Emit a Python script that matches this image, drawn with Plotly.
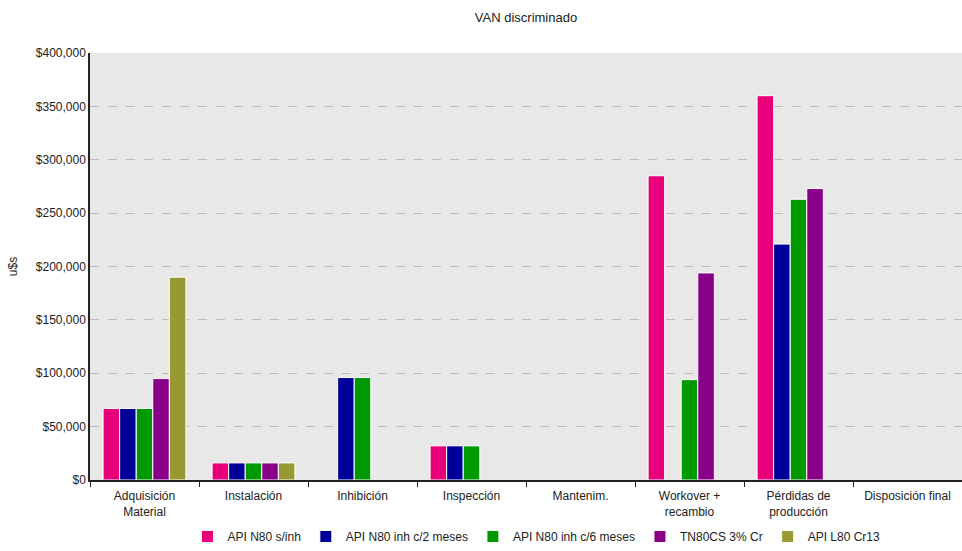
import plotly.graph_objects as go

categories = ["Adquisición<br>Material", "Instalación", "Inhibición", "Inspección",
              "Mantenim.", "Workover +<br>recambio", "Pérdidas de<br>producción",
              "Disposición final"]

api_n80_sinh = [67000, 16000, 0, 32000, 0, 285000, 360000, 0]
api_n80_2m = [67000, 16000, 96000, 32000, 0, 0, 221000, 0]
api_n80_6m = [67000, 16000, 96000, 32000, 0, 94000, 263000, 0]
tn80cs_3cr = [95000, 16000, 0, 0, 0, 194000, 273000, 0]
api_l80_cr13 = [190000, 16000, 0, 0, 0, 0, 0, 0]

series = [
    ("API N80 s/inh", api_n80_sinh, "#E8007A"),
    ("API N80 inh c/2 meses", api_n80_2m, "#000099"),
    ("API N80 inh c/6 meses", api_n80_6m, "#009900"),
    ("TN80CS 3% Cr", tn80cs_3cr, "#880088"),
    ("API L80 Cr13", api_l80_cr13, "#999933"),
]

fig = go.Figure()
for name, vals, color in series:
    fig.add_trace(go.Bar(
        x=categories, y=[v if v else None for v in vals], name=name,
        marker=dict(color=color, line=dict(color="white", width=1)),
    ))

font = "Liberation Sans, Arial, sans-serif"
fig.update_layout(
    width=962, height=551,
    margin=dict(l=90, r=0, t=53, b=71, autoexpand=False),
    paper_bgcolor="white", plot_bgcolor="#E8E8E8",
    barmode="group", bargap=0.24, bargroupgap=0,
    font=dict(family=font, size=12, color="#222"),
    title=dict(text="VAN discriminado", x=0.5, xref="paper", xanchor="center",
               y=0.969, yanchor="middle", yref="container",
               font=dict(size=13, color="#222")),
    showlegend=True,
    legend=dict(orientation="h", x=0.512, xanchor="center", xref="paper",
                y=-0.012, yanchor="bottom", yref="container",
                font=dict(size=12), itemwidth=30, traceorder="normal"),
    xaxis=dict(
        type="category", tickson="boundaries", ticks="outside", ticklen=5,
        tickcolor="#222", showline=True, linecolor="#222", linewidth=1.5,
        showgrid=False, tickfont=dict(size=12), ticklabelstandoff=4,
    ),
    yaxis=dict(
        range=[0, 400000], dtick=50000, tickformat="$,.0f",
        showline=True, linecolor="#222", linewidth=1.5,
        showgrid=True, gridcolor="#BDBDBD", griddash="dash", gridwidth=1,
        zeroline=False, ticks="", tickfont=dict(size=12),
        title=dict(text="u$s", font=dict(size=12), standoff=16),
    ),
)

fig.write_html("out.html")
